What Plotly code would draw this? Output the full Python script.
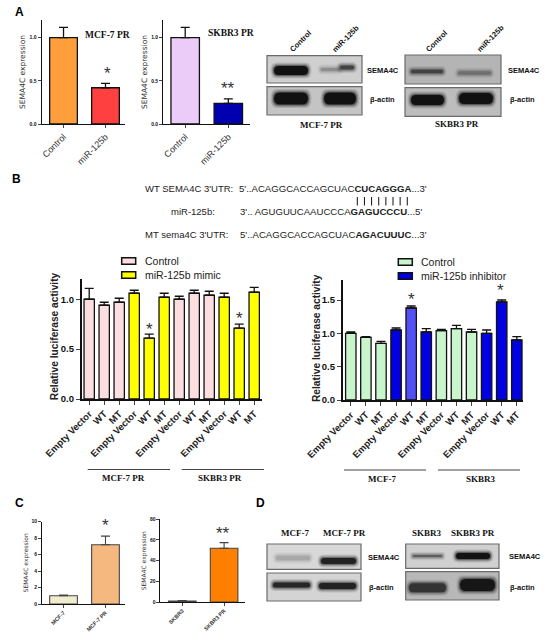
import plotly.graph_objects as go

W = 550
H = 635

#panel A
a_cats = ["Control", "miR-125b"]
a1_vals = [1.0, 0.42]
a1_err = [0.12, 0.05]
a2_vals = [1.0, 0.24]
a2_err = [0.12, 0.05]
a1_colors = ["#FF9F3C", "#FF4040"]
a2_colors = ["#EBCBF7", "#0000B0"]

#panel B
b_cats = ["Empty Vector", "WT", "MT"] * 4
b1_ctrl_x = [0, 1, 2, 6, 7, 8]
b1_ctrl = [1.0, 0.94, 0.97, 1.0, 1.06, 1.04]
b1_ctrl_err = [0.11, 0.03, 0.04, 0.03, 0.03, 0.04]
b1_mimic_x = [3, 4, 5, 9, 10, 11]
b1_mimic = [1.06, 0.61, 1.02, 1.02, 0.71, 1.07]
b1_mimic_err = [0.03, 0.04, 0.04, 0.04, 0.04, 0.05]
b2_ctrl_x = [0, 1, 2, 6, 7, 8]
b2_ctrl = [1.0, 0.94, 0.85, 1.04, 1.07, 1.02]
b2_ctrl_err = [0.02, 0.01, 0.03, 0.02, 0.05, 0.04]
b2_inh_x = [3, 4, 5, 9, 10, 11]
b2_inh = [1.05, 1.38, 1.02, 1.0, 1.47, 0.9]
b2_inh_err = [0.03, 0.03, 0.05, 0.05, 0.03, 0.05]
b2_inh_colors = ["#0000E0", "#5050F5", "#0000E0", "#0000E0", "#0000E0", "#0000E0"]

#panel C
c1_cats = ["MCF-7", "MCF-7 PR"]
c1_vals = [1.0, 7.2]
c1_err = [0.1, 1.05]
c2_cats = ["SKBR3", "SKBR3 PR"]
c2_vals = [1.0, 52]
c2_err = [0.3, 5.4]
c1_colors = ["#F0EDCF", "#F5B87E"]
c2_colors = ["#FFFFFF", "#FF8000"]

SERIF = "Liberation Serif"
SANS = "Liberation Sans"


def px(x):
    return x / W


def py(y):
    return 1 - y / H


fig = go.Figure()
shapes = []
notes = []


def text(x, y, s, size=9, font=SANS, color="#111", anchor="center", angle=0):
    notes.append(dict(x=px(x), y=py(y), xref="paper", yref="paper", text=s, showarrow=False,
                      xanchor=anchor, yanchor="middle", textangle=angle,
                      font=dict(family=font, size=size, color=color)))


def add_axes(n, left, right, top, base, xr, yr, yticks, ticktext_x, tickvals_x, tick_font, y_font, title, title_font, standoff, lw=1.3, ticklen=3):
    suffix = "" if n == 1 else str(n)
    fig.layout["xaxis" + suffix] = dict(domain=[px(left), px(right)], range=xr, anchor="y" + suffix, tickmode="array",
                                       tickvals=tickvals_x, ticktext=ticktext_x, tickangle=-45, ticks="outside",
                                       ticklen=ticklen, tickwidth=lw * 0.8, showline=True, linewidth=lw, linecolor="#111",
                                       showgrid=False, zeroline=False, tickfont=tick_font, automargin=False)
    fig.layout["yaxis" + suffix] = dict(domain=[py(base), py(top)], range=yr, anchor="x" + suffix, tickmode="array",
                                       tickvals=yticks[0], ticktext=yticks[1], ticks="outside",
                                       ticklen=ticklen, tickwidth=lw * 0.8, showline=True, linewidth=lw, linecolor="#111",
                                       showgrid=False, zeroline=False, tickfont=y_font, automargin=False,
                                       title=dict(text=title, font=title_font, standoff=standoff))


def add_bars(n, x, y, err, colors, width=0.66, line="#111", lw=1.3):
    suffix = "" if n == 1 else str(n)
    fig.add_trace(go.Bar(x=x, y=y, width=width, marker=dict(color=colors, line=dict(color=line, width=lw)),
                         error_y=dict(type="data", array=err, symmetric=False, arrayminus=[0] * len(err),
                                      color=line, thickness=lw, width=4.5),
                         xaxis="x" + suffix, yaxis="y" + suffix, showlegend=False))


def swatch(x, y, color, label, tx):
    shapes.append(dict(type="rect", xref="paper", yref="paper", x0=px(x), x1=px(x + 14), y0=py(y - 3.3), y1=py(y + 3.3),
                       fillcolor=color, line=dict(color="#111", width=1.5)))
    text(tx, y, label, size=10.5, anchor="left", color="#222")


def blot(x0, y0, x1, y1, bg, bands):
    shapes.append(dict(type="rect", xref="paper", yref="paper", x0=px(x0), x1=px(x1), y0=py(y0), y1=py(y1),
                       fillcolor=bg, line=dict(color="#6a6a6a", width=1.2), layer="below"))
    for (bx0, bx1, yc, h, dark) in bands:
        #soft edges from a few stacked blobs
        for grow, op in ((3.5, 0.12), (2.2, 0.22), (1.1, 0.35), (0, 0.85)):
            l, r = bx0 - grow, bx1 + grow
            t, b = yc - h / 2 - grow, yc + h / 2 + grow
            e = min(h / 2 + grow, 6)
            path = (f"M {px(l)},{py(yc)} Q {px(l)},{py(t)} {px(l + e)},{py(t)} L {px(r - e)},{py(t)} "
                    f"Q {px(r)},{py(t)} {px(r)},{py(yc)} Q {px(r)},{py(b)} {px(r - e)},{py(b)} "
                    f"L {px(l + e)},{py(b)} Q {px(l)},{py(b)} {px(l)},{py(yc)} Z")
            shapes.append(dict(type="path", xref="paper", yref="paper", path=path, fillcolor=dark,
                               line=dict(width=0), opacity=op, layer="below"))


#small expression charts
a_tick = dict(family=SANS, size=9, color="#333")
small_y = dict(family=SANS, size=5, color="#111", weight="bold")
exp_title = dict(family="DejaVu Sans", size=7.5, color="#333")
add_axes(1, 41.7, 125, 20, 124, [-0.52, 1.465], [0, 1.205], ([0, 0.5, 1.0], ["0.0", "0.5", "1.0"]), a_cats, [0, 1], a_tick, small_y, "SEMA4C expression", exp_title, 2)
add_bars(1, [0, 1], a1_vals, a1_err, a1_colors)
add_axes(2, 163.3, 250, 20, 124, [-0.508, 1.503], [0, 1.205], ([0, 0.5, 1.0], ["0.0", "0.5", "1.0"]), a_cats, [0, 1], a_tick, small_y, "SEMA4C expression", exp_title, 2)
add_bars(2, [0, 1], a2_vals, a2_err, a2_colors)

#luciferase charts
b_tick = dict(family=SANS, size=9.5, color="#222", weight="bold")
b_y = dict(family=SANS, size=9.5, color="#111", weight="bold")
idx = list(range(12))
add_axes(3, 81.7, 261.7, 279.3, 399, [-0.5, 11.5], [0, 1.2], ([0, 0.5, 1.0], ["0.0", "0.5", "1.0"]), b_cats, idx, b_tick, b_y, "", {}, 0, lw=1.5, ticklen=4)
add_bars(3, b1_ctrl_x, b1_ctrl, b1_ctrl_err, "#FCDDE0", width=0.69)
add_bars(3, b1_mimic_x, b1_mimic, b1_mimic_err, "#FFFF00", width=0.69)
add_axes(4, 342.7, 523.3, 280, 400, [-0.537, 11.43], [0, 1.8], ([0, 0.5, 1.0, 1.5], ["0.0", "0.5", "1.0", "1.5"]), b_cats, idx, b_tick, b_y, "", {}, 0, lw=1.5, ticklen=4)
add_bars(4, b2_ctrl_x, b2_ctrl, b2_ctrl_err, "#C9F5CC", width=0.69)
add_bars(4, b2_inh_x, b2_inh, b2_inh_err, b2_inh_colors, width=0.69)
text(54.5, 336.7, "<b>Relative luciferase activity</b>", size=10.2, color="#222", angle=-90)
text(316, 338, "<b>Relative luciferase activity</b>", size=10.2, color="#222", angle=-90)

#legends
swatch(121.7, 261, "#FCDDE0", "Control", 142.7)
swatch(121.7, 275, "#FFFF00", "miR-125b mimic", 142.7)
swatch(398.3, 262, "#C9F5CC", "Control", 419)
swatch(398.3, 276, "#0000E0", "miR-125b inhibitor", 419)

#panel C
c_tick = dict(family=SANS, size=5.5, color="#333", weight="bold")
c_title = dict(family="DejaVu Sans", size=6, color="#333")
add_axes(5, 41.7, 125, 521.7, 604, [-0.52, 1.465], [0, 10], ([0, 2, 4, 6, 8, 10], ["0", "2", "4", "6", "8", "10"]), c1_cats, [0, 1], c_tick, small_y, "SEMA4C expression", c_title, 2, lw=1.1, ticklen=2.5)
add_bars(5, [0, 1], c1_vals, c1_err, c1_colors, line="#444", lw=1.1)
add_axes(6, 160, 245, 519.3, 602, [-0.533, 1.5], [0, 80], ([0, 20, 40, 60, 80], ["0", "20", "40", "60", "80"]), c2_cats, [0, 1], c_tick, small_y, "SEMA4C expression", c_title, 2, lw=1.1, ticklen=2.5)
add_bars(6, [0, 1], c2_vals, c2_err, c2_colors, line="#444", lw=1.1)

#blots, panel A
blot(267, 55.7, 362, 83, "#CFCFCF", [(274, 308, 70.5, 9, "#050505"), (321, 340, 69.5, 3, "#8A8A8A"), (340, 354, 67.5, 4, "#3A3A3A")])
blot(267, 86.7, 362, 115, "#C4C4C4", [(274, 308, 98.5, 12, "#050505"), (324, 356, 98.5, 12, "#050505")])
blot(405, 55, 501, 84, "#B4B4B4", [(411, 443, 71.5, 3.5, "#3A3A3A"), (458, 491, 73, 3.5, "#6A6A6A")])
blot(405, 87.7, 501, 116.3, "#BDBDBD", [(411, 444, 100, 10, "#050505"), (459, 493, 98.5, 11, "#050505")])
#blots, panel D
blot(267, 544, 361, 569.3, "#D8D8D8", [(276, 310, 558, 4.5, "#A4A4A4"), (321, 356, 561, 6, "#151515")])
blot(267, 573, 361, 601, "#D4D4D4", [(273, 310, 585, 5, "#1A1A1A"), (319, 356, 586, 6, "#151515")])
blot(405.7, 544, 499, 568.3, "#D0D0D0", [(413, 442, 556, 1.5, "#4A4A4A"), (456, 490, 556, 6, "#050505")])
blot(405.7, 571.7, 499, 600, "#B8B8B8", [(409, 446, 587.7, 9, "#2A2A2A"), (460, 495, 585, 12, "#0A0A0A")])

#panel letters
for s, x, y in [("A", 19, 12), ("B", 16, 179), ("C", 19, 503), ("D", 260, 503)]:
    text(x, y, "<b>" + s + "</b>", size=12, color="#000")

#A texts
text(107, 35, "<b>MCF-7 PR</b>", size=9.5, font=SERIF)
text(230.7, 33.5, "<b>SKBR3 PR</b>", size=9.5, font=SERIF)
text(107, 74, "*", size=17, color="#333")
text(228, 88, "**", size=17, color="#333")
text(300, 41, "<b>Control</b>", size=7.5, angle=-45)
text(346, 39, "<b>miR-125b</b>", size=7.5, angle=-45)
text(436, 41, "<b>Control</b>", size=7.5, angle=-45)
text(490.7, 39, "<b>miR-125b</b>", size=7.5, angle=-45)
text(365, 70, "<b>SEMA4C</b>", size=7.5, anchor="left")
text(368, 100, "<b>β-actin</b>", size=7.5, anchor="left")
text(506, 70, "<b>SEMA4C</b>", size=7.5, anchor="left")
text(508, 100, "<b>β-actin</b>", size=7.5, anchor="left")
text(321.7, 125, "<b>MCF-7 PR</b>", size=9, font=SERIF)
text(456.7, 124, "<b>SKBR3 PR</b>", size=9, font=SERIF)

#B sequences
text(142.7, 188.3, "WT SEMA4C 3'UTR:", size=9.5, anchor="left", color="#222")
text(237.3, 188.3, "5'..ACAGGCACCAGCUAC<b>CUCAGGGA</b>...3'", size=9.6, anchor="left", color="#222")
for i in range(8):
    x = 357.3 + i * 7.14
    shapes.append(dict(type="line", xref="paper", yref="paper", x0=px(x), x1=px(x), y0=py(197), y1=py(205.5),
                       line=dict(color="#111", width=1)))
text(169.3, 211, "miR-125b:", size=9.5, anchor="left", color="#222")
text(238.3, 211, "3'.. AGUGUUCAAUCCCA<b>GAGUCCCU</b>...5'", size=9.6, anchor="left", color="#222")
text(142.7, 234.3, "MT sema4C 3'UTR:", size=9.5, anchor="left", color="#222")
text(238, 234.3, "5'..ACAGGCACCAGCUAC<b>AGACUUUC</b>...3'", size=9.6, anchor="left", color="#222")

#B group labels
for x0, x1, y in [(87.7, 170, 469.5), (181.7, 264, 469.5), (344, 426, 470), (438, 520, 470)]:
    shapes.append(dict(type="line", xref="paper", yref="paper", x0=px(x0), x1=px(x1), y0=py(y), y1=py(y),
                       line=dict(color="#444", width=1)))
text(123, 478, "<b>MCF-7 PR</b>", size=9, font=SERIF)
text(220, 478, "<b>SKBR3 PR</b>", size=9, font=SERIF)
text(381.7, 479, "<b>MCF-7</b>", size=9, font=SERIF)
text(480.7, 479, "<b>SKBR3</b>", size=9, font=SERIF)
text(149, 329, "*", size=17, color="#333")
text(239, 319, "*", size=17, color="#333")
text(411, 299, "*", size=17, color="#333")
text(500.7, 290, "*", size=17, color="#333")

#C and D texts
text(105, 525, "*", size=17, color="#333")
text(222.7, 533, "**", size=17, color="#333")
text(295, 532.7, "<b>MCF-7</b>", size=9, font=SERIF)
text(344.3, 532.7, "<b>MCF-7 PR</b>", size=9, font=SERIF)
text(427, 532.7, "<b>SKBR3</b>", size=9, font=SERIF)
text(472.7, 532.7, "<b>SKBR3 PR</b>", size=9, font=SERIF)
text(365.7, 557, "<b>SEMA4C</b>", size=7.5, anchor="left")
text(366.7, 587, "<b>β-actin</b>", size=7.5, anchor="left")
text(506.7, 556.7, "<b>SEMA4C</b>", size=7.5, anchor="left")
text(508, 587, "<b>β-actin</b>", size=7.5, anchor="left")

fig.update_layout(
    width=W, height=H, margin=dict(l=0, r=0, t=0, b=0), paper_bgcolor="white", plot_bgcolor="white",
    barmode="overlay", shapes=shapes, annotations=notes, showlegend=False,
)
fig.write_html("out.html", config={"displayModeBar": False}, post_script="document.body.style.margin='0';")
